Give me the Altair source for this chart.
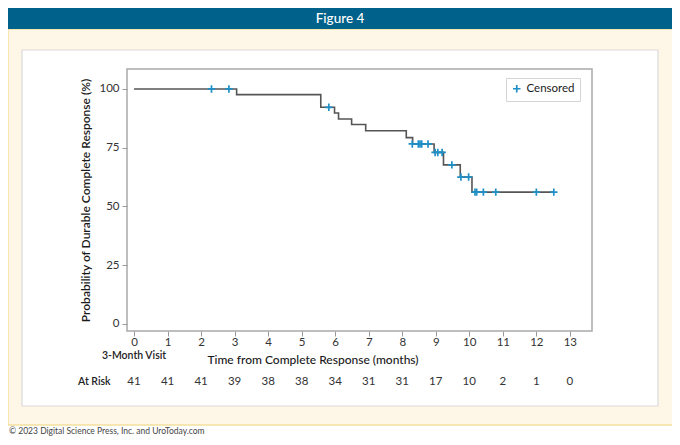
import pandas as pd
import altair as alt

# Kaplan-Meier steps (months, % still in complete response after the drop)
step_months = [0, 3.06, 5.57, 5.98, 6.10, 6.49, 6.91, 8.12, 8.31, 8.95, 9.23, 9.73, 10.08, 12.52]
step_pct = [100, 97.6, 92.2, 89.8, 87.2, 84.9, 82.2, 79.3, 76.6, 73.0, 67.7, 62.5, 56.1, 56.1]

# censored observations
cens_months = [2.31, 2.83, 5.81, 8.30, 8.48, 8.53, 8.58, 8.77, 8.98, 9.06, 9.19,
               9.48, 9.75, 9.98, 10.17, 10.22, 10.42, 10.79, 12.0, 12.52]
cens_pct = [100, 100, 92.2, 76.6, 76.6, 76.6, 76.6, 76.6, 73.0, 73.0, 73.0,
            67.7, 62.5, 62.5, 56.1, 56.1, 56.1, 56.1, 56.1, 56.1]

# number at risk under each month tick
risk_months = list(range(14))
at_risk = [41, 41, 41, 39, 38, 38, 34, 31, 31, 17, 10, 2, 1, 0]

FONT = "Lato"
PLUS = "M-1,0H1M0,-1V1"
BLUE = "#1f8fc6"

x_scale = alt.Scale(domain=[-0.21, 13.66], nice=False, zero=False)
y_scale = alt.Scale(domain=[-3, 108.5], nice=False, zero=False)

x_axis = alt.Axis(values=list(range(14)), title=None, domain=False, grid=False,
                  tickColor="#9a9a9a", tickSize=5, labelColor="#333333",
                  labelFontSize=11.5, labelPadding=0, labelFont=FONT, zindex=2,
                  labelOverlap=False, labelFlush=False)
y_axis = alt.Axis(values=[0, 25, 50, 75, 100], domain=False, grid=False,
                  tickColor="#9a9a9a", tickSize=5, labelColor="#333333",
                  labelFontSize=11.5, labelPadding=3, labelFont=FONT, zindex=2,
                  labelOverlap=False,
                  title="Probability of Durable Complete Response (%)",
                  titleFont=FONT, titleFontSize=12, titleFontWeight=600,
                  titleColor="#1a1a1a", titlePadding=6)

X = alt.X("month:Q", scale=x_scale, axis=x_axis)
Y = alt.Y("pct:Q", scale=y_scale, axis=y_axis)

one = pd.DataFrame({"month": [0]})
steps = pd.DataFrame({"month": step_months, "pct": step_pct})
cens = pd.DataFrame({"month": cens_months, "pct": cens_pct, "kind": "Censored"})
risk = pd.DataFrame({"month": risk_months, "n": at_risk})


def box(x, x2, y, y2, **kw):
    return alt.Chart(one).mark_rect(**kw).encode(
        x=alt.value(x), x2=alt.value(x2), y=alt.value(y), y2=alt.value(y2))


def label(text, x, y, **kw):
    return alt.Chart(one).mark_text(text=text, font=FONT, **kw).encode(
        x=alt.value(x), y=alt.value(y))


# page furniture (pixel positions relative to the plot area)
panel = box(-119, 551, -40, 356, fill="#fef7e8", stroke="#f3df9c", strokeWidth=1.5)
card = box(-105, 531, -19, 337, fill="#ffffff", stroke="#dadada", strokeWidth=1.2)
banner = box(-119, 560, -75, -40, fill="#00618a")
banner_txt = label("Figure 4", 213, -50, color="white", fontSize=13.5, fontWeight=500)
frame = box(0, 465, 0, 262, fill="transparent", stroke="#a9a9a9", strokeWidth=1.5)
footer = label("© 2023 Digital Science Press, Inc. and UroToday.com", -118, 362,
               align="left", fontSize=8.5, color="#444444")

curve = alt.Chart(steps).mark_line(interpolate="step-after", color="#555555",
                                   strokeWidth=1.6).encode(x=X, y=Y)

marks = alt.Chart(cens).mark_point(shape=PLUS, filled=False, size=56,
                                   strokeWidth=1.7, opacity=1).encode(
    x=X, y=Y,
    color=alt.Color("kind:N", scale=alt.Scale(range=[BLUE]),
                    legend=alt.Legend(title=None, orient="none", legendX=379,
                                      legendY=9, symbolType=PLUS, symbolSize=56,
                                      symbolStrokeWidth=1.7, labelFont=FONT,
                                      labelFontSize=11.5, labelColor="#1a1a1a",
                                      strokeColor="#d4d4d4", fillColor="white",
                                      padding=5, symbolOffset=0)),
)

visit = alt.Chart(one).mark_text(text="3-Month Visit", font=FONT, fontSize=10.5,
                                 fontWeight=600, color="#222222").encode(
    x=X, y=alt.value(287))

x_title = label("Time from Complete Response (months)", 186, 291,
                fontSize=12, fontWeight=500, color="#1a1a1a")
risk_title = label("At Risk", -49, 313, align="left", fontSize=10.5,
                   fontWeight=600, color="#222222")

risk_nums = alt.Chart(risk).mark_text(font=FONT, fontSize=11.5, color="#333333").encode(
    x=X, y=alt.value(313), text="n:Q")

chart = alt.layer(
    panel, card, banner, banner_txt, footer, curve, frame, marks,
    visit, x_title, risk_title, risk_nums,
).properties(
    width=465, height=262,
    autosize=alt.AutoSizeParams(type="none"),
    padding={"left": 119, "top": 61, "right": 80, "bottom": 105},
).configure(background="white").configure_view(stroke=None)

chart.save("out.html", embed_options={"renderer": "svg", "actions": False})
